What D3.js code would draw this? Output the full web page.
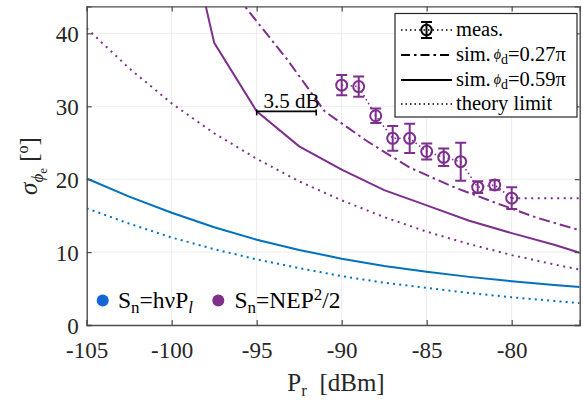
<!DOCTYPE html>
<html lang="en">
<head>
<meta charset="utf-8">
<script src="https://d3js.org/d3.v7.min.js"></script>
<style>
  *{margin:0;padding:0}
  body{background:#fff;width:583px;height:400px;overflow:hidden}
  svg text{font-family:"Liberation Serif","Times New Roman",serif}
  .grid line{stroke:#ececec;stroke-width:1}
</style>
</head>
<body>
<script>
// ---- data ----
const xTicks=[-105,-100,-95,-90,-85,-80];
const yTicks=[0,10,20,30,40];

// theory limits
const pTheory=[-105,-102.5,-100,-97.5,-95,-92.5,-90,-87.5,-85,-82.5,-80,-77.5,-76];
const blueTheory=[16.0,13.9,12.0,10.4,9.0,7.8,6.7,5.8,5.1,4.4,3.8,3.3,3.0];
const purpleTheory=[40.7,35.2,30.4,26.3,22.8,19.7,17.1,14.8,12.8,11.1,9.6,8.3,7.6];

// sim. phi_d=0.59pi
const pBlueSim=[-105,-102.5,-100,-97.5,-95,-92.5,-90,-87.5,-85,-82.5,-80,-77.5,-76];
const blueSim=[20.1,17.6,15.4,13.4,11.7,10.3,9.1,8.1,7.3,6.6,6.0,5.5,5.2];
const pPurpleSim=[-100,-97.5,-95,-92.5,-90,-87.5,-85,-82.5,-80,-77.5,-76];
const purpleSim=[64,38.7,29.3,24.5,21.3,18.5,16.4,14.3,12.6,11.0,9.9];

// sim. phi_d=0.27pi
const pPurpleSim2=[-97,-93.2,-91,-88.5,-86,-83.5,-81,-78.5,-76];
const purpleSim2=[47.5,36.4,29.3,25.2,21.6,19.0,16.8,14.7,13.0];

// measurements
const measP=[-90,-89,-88,-87,-86,-85,-84,-83,-82,-81,-80];
const measVal=[32.9,32.7,28.7,25.6,25.6,23.8,23.0,22.4,18.9,19.2,17.4];
const measErr=[1.4,1.4,1.0,1.7,2.0,1.1,1.2,2.6,0.8,0.65,1.5];
const measTailP=[-80,-76];
const measTail=[17.4,17.4];

const gapFrom=-95, gapTo=-91.5, gapLevel=29.3;

const blue='#0072BD', purple='#7E2F8E';
const W=583,H=400;
const margin={top:6.4,right:3.3,bottom:75,left:86.7};

const x=d3.scaleLinear().domain([-105,-76]).range([margin.left,W-margin.right]);
const y=d3.scaleLinear().domain([0,43.7]).range([H-margin.bottom,margin.top]);

const svg=d3.select('body').append('svg').attr('width',W).attr('height',H);
svg.append('rect').attr('width',W).attr('height',H).attr('fill','#fff');

svg.append('defs').append('clipPath').attr('id','clip')
   .append('rect').attr('x',x.range()[0]).attr('y',y.range()[1])
   .attr('width',x.range()[1]-x.range()[0]).attr('height',y.range()[0]-y.range()[1]);

// grid
const grid=svg.append('g').attr('class','grid');
grid.selectAll('.gx').data(xTicks.slice(1)).enter().append('line')
    .attr('x1',d=>x(d)).attr('x2',d=>x(d)).attr('y1',y.range()[0]).attr('y2',y.range()[1]);
grid.selectAll('.gy').data(yTicks.slice(1)).enter().append('line')
    .attr('y1',d=>y(d)).attr('y2',d=>y(d)).attr('x1',x.range()[0]).attr('x2',x.range()[1]);

const plot=svg.append('g').attr('clip-path','url(#clip)');
const line=d3.line().x(d=>x(d[0])).y(d=>y(d[1]));
const zip=(a,b)=>a.map((v,i)=>[v,b[i]]);

function drawLine(px,py,color,dash,w){
  plot.append('path').datum(zip(px,py)).attr('d',line)
      .attr('fill','none').attr('stroke',color).attr('stroke-width',w||2)
      .attr('stroke-dasharray',dash||null);
}
drawLine(pTheory,blueTheory,blue,'2,4.2');
drawLine(pTheory,purpleTheory,purple,'2,4.6');
drawLine(pBlueSim,blueSim,blue);
drawLine(pPurpleSim,purpleSim,purple);
drawLine(pPurpleSim2,purpleSim2,purple,'11,4,2.5,4');
drawLine(measP,measVal,purple,'1.5,3',1.6);
drawLine(measTailP,measTail,purple,'2,4.5');

// error bars and circles
const meas=plot.append('g').attr('stroke',purple).attr('stroke-width',2).attr('fill','none');
measP.forEach((p,i)=>{
  const cx=x(p), t=y(measVal[i]+measErr[i]), b=y(measVal[i]-measErr[i]);
  meas.append('line').attr('x1',cx).attr('x2',cx).attr('y1',t).attr('y2',b);
  meas.append('line').attr('x1',cx-5.5).attr('x2',cx+5.5).attr('y1',t).attr('y2',t);
  meas.append('line').attr('x1',cx-5.5).attr('x2',cx+5.5).attr('y1',b).attr('y2',b);
  meas.append('circle').attr('cx',cx).attr('cy',y(measVal[i])).attr('r',5.5);
});

// 3.5 dB annotation
const ann=svg.append('g').attr('stroke','#000').attr('stroke-width',1.6);
ann.append('line').attr('x1',x(gapFrom)).attr('x2',x(gapTo)).attr('y1',y(gapLevel)).attr('y2',y(gapLevel));
[gapFrom,gapTo].forEach(g=>ann.append('line').attr('x1',x(g)).attr('x2',x(g))
   .attr('y1',y(gapLevel)-2).attr('y2',y(gapLevel)+4));
svg.append('text').attr('x',(x(gapFrom)+x(gapTo))/2+5).attr('y',y(gapLevel)-3.5)
   .attr('text-anchor','middle').attr('font-size',21).text('3.5 dB');

// axes
const axCol='#4d4d4d';
const fmt=d=>String(d);
const xb=svg.append('g').attr('transform',`translate(0,${y.range()[0]})`)
   .call(d3.axisBottom(x).tickValues(xTicks).tickSize(-5).tickPadding(17).tickFormat(fmt));
const xt=svg.append('g').attr('transform',`translate(0,${y.range()[1]})`)
   .call(d3.axisTop(x).tickValues(xTicks).tickSize(-5).tickFormat(''));
const yl=svg.append('g').attr('transform',`translate(${x.range()[0]},0)`)
   .call(d3.axisLeft(y).tickValues(yTicks).tickSize(-5).tickPadding(8).tickFormat(fmt));
const yr=svg.append('g').attr('transform',`translate(${x.range()[1]},0)`)
   .call(d3.axisRight(y).tickValues(yTicks).tickSize(-5).tickFormat(''));
[xb,xt,yl,yr].forEach(g=>{
  g.selectAll('path').attr('stroke',axCol).attr('stroke-width',1.4);
  g.selectAll('line').attr('stroke',axCol).attr('stroke-width',1.2);
  g.selectAll('text').attr('fill','#262626').attr('font-size',23);
});
xb.selectAll('text').attr('dy','0.71em');
yl.selectAll('text').attr('dy','0.36em');

// axis labels
const xl=svg.append('text').attr('x',336).attr('y',391).attr('text-anchor','middle')
   .attr('font-size',25).attr('fill','#262626');
xl.append('tspan').text('P');
xl.append('tspan').attr('font-size',17).attr('dy',5).text('r');
xl.append('tspan').attr('dy',-5).text('\u2002[dBm]');

const ylab=svg.append('text').attr('transform','translate(37,166) rotate(-90)')
   .attr('text-anchor','middle').attr('font-size',25).attr('fill','#262626');
ylab.append('tspan').attr('font-style','italic').text('\u03c3');
ylab.append('tspan').attr('font-style','italic').attr('font-size',17).attr('dy',6).text('\u03d5');
ylab.append('tspan').attr('font-size',13).attr('dy',4).text('e');
ylab.append('tspan').attr('dy',-10).text(' [');
ylab.append('tspan').attr('font-size',16).attr('dy',-9).text('o');
ylab.append('tspan').attr('dy',9).text(']');

// legend (top right)
const lg=svg.append('g');
lg.append('rect').attr('x',395).attr('y',13.5).attr('width',182).attr('height',103.5)
  .attr('fill','#fff').attr('stroke','#262626').attr('stroke-width',1.2);
const rows=[30,55,80,104];
const sx0=401, sx1=452;
// meas.
lg.append('line').attr('x1',sx0).attr('x2',sx1).attr('y1',rows[0]).attr('y2',rows[0])
  .attr('stroke','#000').attr('stroke-width',1.6).attr('stroke-dasharray','1.5,3');
const lm=lg.append('g').attr('stroke','#000').attr('stroke-width',2).attr('fill','#fff');
lm.append('line').attr('x1',426.5).attr('x2',426.5).attr('y1',rows[0]-8).attr('y2',rows[0]+8);
lm.append('line').attr('x1',421).attr('x2',432).attr('y1',rows[0]-8).attr('y2',rows[0]-8);
lm.append('line').attr('x1',421).attr('x2',432).attr('y1',rows[0]+8).attr('y2',rows[0]+8);
lm.append('circle').attr('cx',426.5).attr('cy',rows[0]).attr('r',5.2).attr('fill','none');
lg.append('line').attr('x1',sx0).attr('x2',sx1).attr('y1',rows[1]).attr('y2',rows[1])
  .attr('stroke','#000').attr('stroke-width',2).attr('stroke-dasharray','9,4,2.5,4');
lg.append('line').attr('x1',sx0).attr('x2',sx1).attr('y1',rows[2]).attr('y2',rows[2])
  .attr('stroke','#000').attr('stroke-width',2);
lg.append('line').attr('x1',sx0).attr('x2',sx1).attr('y1',rows[3]).attr('y2',rows[3])
  .attr('stroke','#000').attr('stroke-width',1.6).attr('stroke-dasharray','1.5,3');
const tx=456;
const ltxt=(yy)=>lg.append('text').attr('x',tx).attr('y',yy+6).attr('font-size',20.5).attr('fill','#000');
ltxt(rows[0]).text('meas.');
['0.27\u03c0','0.59\u03c0'].forEach((v,i)=>{
  const t=ltxt(rows[i+1]);
  t.append('tspan').text('sim.');
  t.append('tspan').attr('font-style','italic').attr('font-size',14).attr('dx',3).attr('dy',-2).text('\u03d5');
  t.append('tspan').attr('font-size',14).attr('dy',5).text('d');
  t.append('tspan').attr('dy',-3).text('='+v);
});
ltxt(rows[3]).text('theory limit');

// legend (bottom left)
const bl=svg.append('g');
const by=300.5;
bl.append('circle').attr('cx',102.7).attr('cy',by).attr('r',6).attr('fill','#1466d6');
bl.append('circle').attr('cx',218.3).attr('cy',by).attr('r',6).attr('fill',purple);
const t1=bl.append('text').attr('x',118).attr('y',by+7).attr('font-size',23.5).attr('fill','#000');
t1.append('tspan').text('S');
t1.append('tspan').attr('font-size',17).attr('dy',5).text('n');
t1.append('tspan').attr('dy',-5).text('=h\u03bdP');
t1.append('tspan').attr('font-size',17).attr('font-style','italic').attr('dy',5).text('l');
const t2=bl.append('text').attr('x',234.5).attr('y',by+7).attr('font-size',23.5).attr('fill','#000');
t2.append('tspan').text('S');
t2.append('tspan').attr('font-size',17).attr('dy',5).text('n');
t2.append('tspan').attr('dy',-5).text('=NEP');
t2.append('tspan').attr('font-size',17).attr('dy',-8).text('2');
t2.append('tspan').attr('dy',8).text('/2');
</script>
</body>
</html>
